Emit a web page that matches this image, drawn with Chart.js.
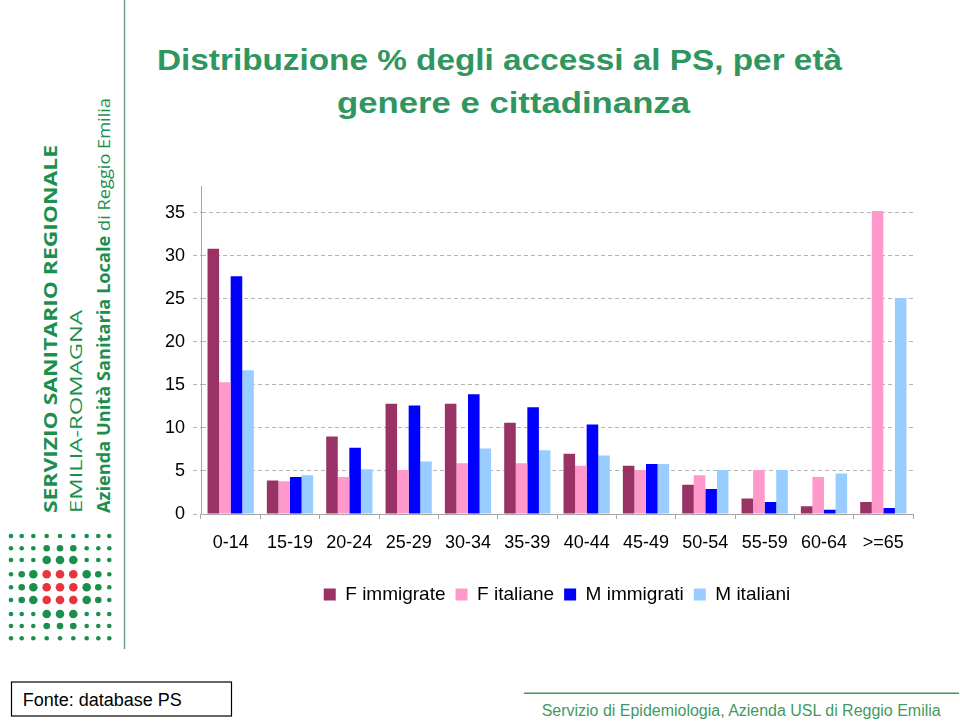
<!DOCTYPE html>
<html>
<head>
<meta charset="utf-8">
<script src="https://cdn.jsdelivr.net/npm/chart.js@4"></script>
<style>
  html, body { margin: 0; padding: 0; background: #fff; }
  body { width: 960px; height: 724px; position: relative; overflow: hidden; font-family: "Liberation Sans", Arial, sans-serif; }
  #deco { position: absolute; left: 0; top: 0; }
  #chartBox { position: absolute; left: 140px; top: 168px; width: 800px; height: 452px; }
</style>
</head>
<body>
<svg id="deco" width="960" height="724" xmlns="http://www.w3.org/2000/svg">
  <line x1="124.5" y1="0" x2="124.5" y2="649" stroke="#6f9f86" stroke-width="1.5"/>
  <g id="dots"></g>
  <g fill="#1c8f4d">
    <text transform="translate(57,513) rotate(-90)" font-family="Open Sans, sans-serif" font-weight="bold" font-size="17" textLength="368" lengthAdjust="spacingAndGlyphs">SERVIZIO SANITARIO REGIONALE</text>
    <text transform="translate(82,513) rotate(-90)" font-family="Open Sans, sans-serif" font-size="17" textLength="203" lengthAdjust="spacingAndGlyphs">EMILIA-ROMAGNA</text>
    <text transform="translate(110,513) rotate(-90)" font-family="Open Sans, sans-serif" font-size="17" textLength="415" lengthAdjust="spacingAndGlyphs"><tspan font-weight="bold">Azienda Unità Sanitaria Locale</tspan> di Reggio Emilia</text>
  </g>
  <g fill="#2f9660" font-family="Liberation Sans, Arial, sans-serif" font-weight="bold" font-size="30">
    <text x="157" y="70" textLength="685" lengthAdjust="spacingAndGlyphs">Distribuzione % degli accessi al PS, per età</text>
    <text x="337" y="113" textLength="353" lengthAdjust="spacingAndGlyphs">genere e cittadinanza</text>
  </g>
  <rect x="11.5" y="682" width="220" height="34" fill="none" stroke="#000" stroke-width="1.2"/>
  <text x="22.7" y="706" font-family="Liberation Sans, Arial, sans-serif" font-size="18" fill="#000">Fonte: database PS</text>
  <line x1="524" y1="693.3" x2="959" y2="693.3" stroke="#3a9c55" stroke-width="1.5"/>
  <text x="541.7" y="716" font-family="Liberation Sans, Arial, sans-serif" font-size="16" fill="#3f9a63" textLength="399" lengthAdjust="spacingAndGlyphs">Servizio di Epidemiologia, Azienda USL di Reggio Emilia</text>
</svg>
<div id="chartBox"><canvas id="chart"></canvas></div>
<script>
const categories = ['0-14', '15-19', '20-24', '25-29', '30-34', '35-39', '40-44', '45-49', '50-54', '55-59', '60-64', '>=65'];
const fImmigrate = [30.8, 3.9, 9.0, 12.8, 12.8, 10.6, 7.0, 5.6, 3.4, 1.8, 0.9, 1.4];
const fItaliane = [15.3, 3.8, 4.3, 5.1, 5.9, 5.9, 5.6, 5.1, 4.5, 5.1, 4.3, 35.2];
const mImmigrati = [27.6, 4.3, 7.7, 12.6, 13.9, 12.4, 10.4, 5.8, 2.9, 1.4, 0.5, 0.7];
const mItaliani = [16.7, 4.5, 5.2, 6.1, 7.6, 7.4, 6.8, 5.8, 5.1, 5.1, 4.7, 25.1];
const yTicks = [0, 5, 10, 15, 20, 25, 30, 35];

// logo dots (decoration)
const dotCols = [11, 21.7, 33.3, 46.7, 60, 73.3, 86.7, 98.3, 109.3];
const dotRows = [536, 548.3, 560, 574.3, 587.3, 600, 614, 626, 638.3];
const dotPattern = [
  'sssssssss',
  'sssmmmsss',
  'sssLLLsss',
  'smLRRRLms',
  'smLRRRLms',
  'smLRRRLms',
  'sssLLLsss',
  'sssmmmsss',
  'sssssssss'
];
const dotsG = document.getElementById('dots');
dotPattern.forEach((row, r) => {
  row.split('').forEach((k, c) => {
    const el = document.createElementNS('http://www.w3.org/2000/svg', 'circle');
    el.setAttribute('cx', dotCols[c]);
    el.setAttribute('cy', dotRows[r]);
    el.setAttribute('r', k === 's' ? 2.3 : k === 'm' ? 3.3 : 4.3);
    el.setAttribute('fill', k === 'R' ? '#e8343c' : '#1c8f4d');
    dotsG.appendChild(el);
  });
});

// centre the legend under the plot area instead of the whole canvas
const legendShift = {
  id: 'legendShift',
  afterLayout(chart) {
    const lg = chart.legend;
    if (!lg) return;
    const dx = (chart.chartArea.left + chart.chartArea.right) / 2 - (lg.left + lg.right) / 2;
    lg.left += dx;
    lg.right += dx;
  }
};

const ctx = document.getElementById('chart').getContext('2d');
new Chart(ctx, {
  type: 'bar',
  data: {
    labels: categories,
    datasets: [
      { label: 'F immigrate', data: fImmigrate, backgroundColor: '#993366' },
      { label: 'F italiane', data: fItaliane, backgroundColor: '#FF99CC' },
      { label: 'M immigrati', data: mImmigrati, backgroundColor: '#0000FF' },
      { label: 'M italiani', data: mItaliani, backgroundColor: '#99CCFF' }
    ]
  },
  plugins: [legendShift],
  options: {
    responsive: true,
    maintainAspectRatio: false,
    animation: false,
    datasets: {
      bar: { categoryPercentage: 0.78, barPercentage: 1.0, borderWidth: 0 }
    },
    layout: { padding: { top: 12, right: 27, left: 0, bottom: 6 } },
    plugins: {
      tooltip: { enabled: false },
      legend: {
        display: true,
        position: 'bottom',
        labels: {
          boxWidth: 12,
          boxHeight: 12,
          padding: 10,
          color: '#000',
          font: { family: 'Liberation Sans, Arial, sans-serif', size: 19 }
        }
      }
    },
    scales: {
      x: {
        afterFit: (s) => { s.height = 61; },
        grid: { drawOnChartArea: false, drawTicks: true, tickLength: 5, color: '#a6a6a6' },
        border: { color: '#a6a6a6', width: 1 },
        ticks: {
          color: '#000',
          padding: 13,
          maxRotation: 0,
          autoSkip: false,
          font: { family: 'Liberation Sans, Arial, sans-serif', size: 18 }
        }
      },
      y: {
        min: 0,
        max: 38,
        afterFit: (s) => { s.width = 61; },
        afterBuildTicks: (s) => { s.ticks = yTicks.map(v => ({ value: v })); },
        grid: { color: '#b4b4b4', tickLength: 8, tickBorderDash: [4, 3] },
        border: { color: '#a6a6a6', width: 1, dash: [4, 3] },
        ticks: {
          color: '#000',
          padding: 8,
          font: { family: 'Liberation Sans, Arial, sans-serif', size: 18 }
        }
      }
    }
  }
});
</script>
</body>
</html>
